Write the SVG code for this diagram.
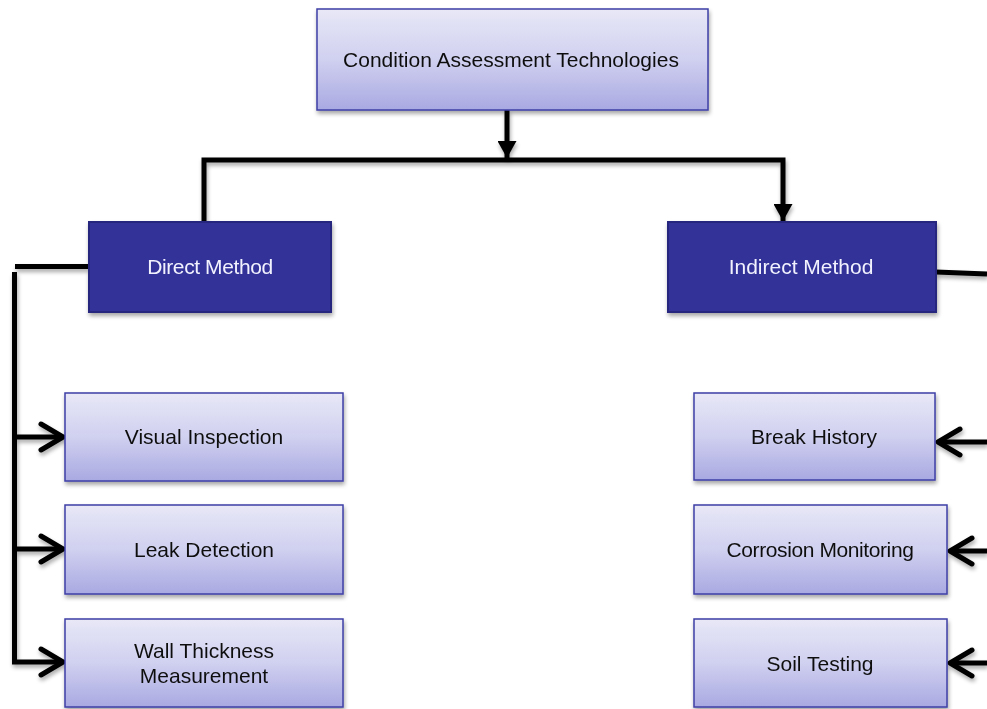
<svg xmlns="http://www.w3.org/2000/svg" width="987" height="709" viewBox="0 0 987 709">
  <defs>
    <linearGradient id="lightFill" x1="0" y1="0" x2="0" y2="1">
      <stop offset="0" stop-color="#e8e8f7"/>
      <stop offset="0.5" stop-color="#d0d0f0"/>
      <stop offset="1" stop-color="#a9a9e2"/>
    </linearGradient>
    <filter id="shadow" x="-10%" y="-10%" width="130%" height="140%">
      <feGaussianBlur in="SourceAlpha" stdDeviation="2"/>
      <feOffset dx="1" dy="3" result="blur"/>
      <feComponentTransfer><feFuncA type="linear" slope="0.35"/></feComponentTransfer>
      <feMerge><feMergeNode/><feMergeNode in="SourceGraphic"/></feMerge>
    </filter>
    <marker id="solidHead" viewBox="0 0 10 11" preserveAspectRatio="none" refX="10" refY="5.5" markerWidth="3.4" markerHeight="3.8" markerUnits="strokeWidth" orient="auto">
      <path d="M0,0 L10,5.5 L0,11 Z" fill="#000"/>
    </marker>
  </defs>
  <style>
    .light { fill: url(#lightFill); stroke: #3f3fa6; stroke-width: 1.5; }
    .dark { fill: #333399; stroke: #28287e; stroke-width: 2; }
    .lbl { font-family: "Liberation Sans", Arial, sans-serif; font-size: 21px; fill: #111; text-anchor: middle; }
    .lbl-w { font-family: "Liberation Sans", Arial, sans-serif; font-size: 21px; fill: #f2f2ff; text-anchor: middle; }
    .wire { fill: none; stroke: #000; stroke-width: 5; stroke-linejoin: miter; stroke-linecap: butt; }
    .chev { fill: none; stroke: #000; stroke-width: 5; stroke-linecap: round; stroke-linejoin: round; }
  </style>

  <rect width="987" height="709" fill="#ffffff"/>

  <!-- connectors -->
  <g id="connectors" filter="url(#shadow)">
    <!-- root to bus -->
    <line class="wire" x1="507" y1="110" x2="507" y2="158" marker-end="url(#solidHead)"/>
    <!-- bus to both method nodes -->
    <path class="wire" d="M204,221 V160 H783 V221" marker-start="url(#solidHead)" marker-end="url(#solidHead)"/>
    <!-- direct method branch -->
    <line class="wire" x1="88" y1="266.5" x2="15" y2="266.5"/>
    <line class="wire" x1="14.5" y1="272" x2="14.5" y2="664"/>
    <line class="wire" x1="14.5" y1="437" x2="63" y2="437"/>
    <line class="wire" x1="14.5" y1="549" x2="63" y2="549"/>
    <line class="wire" x1="12" y1="662" x2="63" y2="662"/>
    <polyline class="chev" points="41,424 63,437 41,450"/>
    <polyline class="chev" points="41,536 63,549 41,562"/>
    <polyline class="chev" points="41,649 63,662 41,675"/>
    <!-- indirect method branch -->
    <line class="wire" x1="936" y1="272" x2="987" y2="274"/>
    <line class="wire" x1="987" y1="442" x2="938" y2="442"/>
    <line class="wire" x1="987" y1="551" x2="950" y2="551"/>
    <line class="wire" x1="987" y1="663" x2="950" y2="663"/>
    <polyline class="chev" points="960,429 938,442 960,455"/>
    <polyline class="chev" points="972,538 950,551 972,564"/>
    <polyline class="chev" points="972,650 950,663 972,676"/>
  </g>

  <!-- root -->
  <g id="node-root" filter="url(#shadow)">
    <rect class="light" x="317" y="9" width="391" height="101"/>
    <text class="lbl" x="511" y="67">Condition Assessment Technologies</text>
  </g>

  <!-- method nodes -->
  <g id="node-direct" filter="url(#shadow)">
    <rect class="dark" x="89" y="222" width="242" height="90"/>
    <text class="lbl-w" x="210" y="274" letter-spacing="-0.4">Direct Method</text>
  </g>
  <g id="node-indirect" filter="url(#shadow)">
    <rect class="dark" x="668" y="222" width="268" height="90"/>
    <text class="lbl-w" x="801" y="274">Indirect Method</text>
  </g>

  <!-- direct techniques -->
  <g id="node-visual" filter="url(#shadow)">
    <rect class="light" x="65" y="393" width="278" height="88"/>
    <text class="lbl" x="204" y="444">Visual Inspection</text>
  </g>
  <g id="node-leak" filter="url(#shadow)">
    <rect class="light" x="65" y="505" width="278" height="89"/>
    <text class="lbl" x="204" y="557">Leak Detection</text>
  </g>
  <g id="node-wall" filter="url(#shadow)">
    <rect class="light" x="65" y="619" width="278" height="88"/>
    <text class="lbl" x="204" y="658">Wall Thickness</text>
    <text class="lbl" x="204" y="683">Measurement</text>
  </g>

  <!-- indirect techniques -->
  <g id="node-break" filter="url(#shadow)">
    <rect class="light" x="694" y="393" width="241" height="87"/>
    <text class="lbl" x="814" y="444">Break History</text>
  </g>
  <g id="node-corrosion" filter="url(#shadow)">
    <rect class="light" x="694" y="505" width="253" height="89"/>
    <text class="lbl" x="820" y="557" letter-spacing="-0.4">Corrosion Monitoring</text>
  </g>
  <g id="node-soil" filter="url(#shadow)">
    <rect class="light" x="694" y="619" width="253" height="88"/>
    <text class="lbl" x="820" y="671">Soil Testing</text>
  </g>
</svg>
